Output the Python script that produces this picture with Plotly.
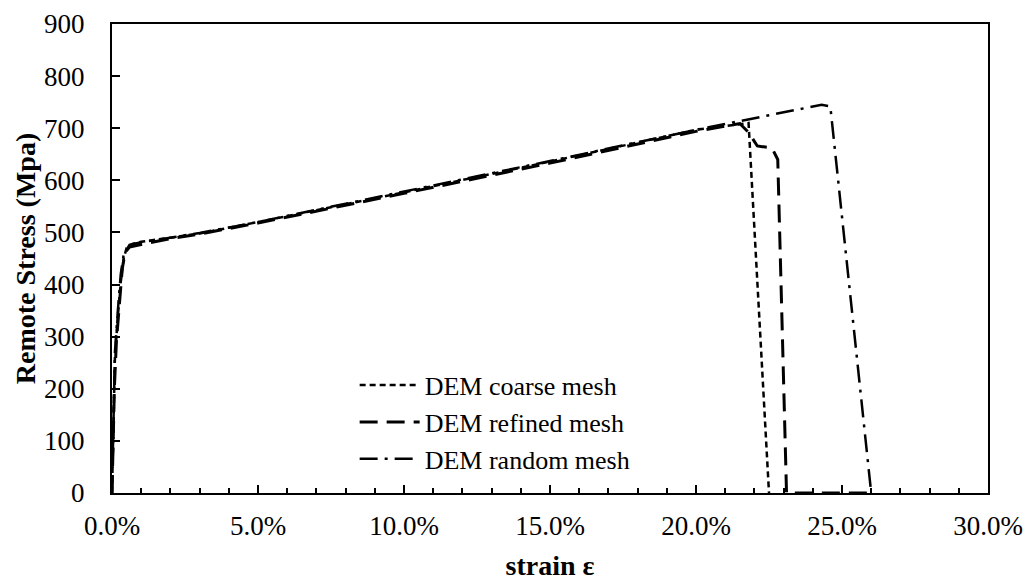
import plotly.graph_objects as go

# strain (fraction) and remote stress (MPa)
coarse_strain = [0.0, 0.0005, 0.001, 0.002, 0.003, 0.004, 0.005, 0.007, 0.01, 0.02, 0.03,
                 0.05, 0.10, 0.15, 0.20, 0.218, 0.225]
coarse_stress = [0, 170, 260, 340, 405, 450, 470, 478, 482, 490, 498,
                 520, 577, 636, 697, 710, 0]

refined_strain = [0.0, 0.0008, 0.0015, 0.0025, 0.0035, 0.0045, 0.006, 0.01, 0.02, 0.03,
                  0.05, 0.10, 0.15, 0.20, 0.215, 0.218, 0.221, 0.226, 0.228, 0.231, 0.26]
refined_stress = [0, 200, 290, 370, 430, 462, 472, 477, 488, 497,
                  518, 575, 633, 694, 709, 692, 666, 662, 640, 0, 0]

random_strain = [0.0, 0.0005, 0.001, 0.002, 0.003, 0.004, 0.006, 0.01, 0.02, 0.03,
                 0.05, 0.10, 0.15, 0.20, 0.243, 0.246, 0.260]
random_stress = [0, 150, 270, 350, 420, 458, 476, 481, 490, 499,
                 520, 578, 637, 697, 745, 742, 0]

series_names = ["DEM coarse mesh", "DEM refined mesh", "DEM random mesh"]

x_tickvals = [0.0, 0.05, 0.10, 0.15, 0.20, 0.25, 0.30]
y_tickvals = [0, 100, 200, 300, 400, 500, 600, 700, 800, 900]

FONT = "Liberation Serif"

fig = go.Figure()
fig.add_trace(go.Scatter(x=coarse_strain, y=coarse_stress, mode="lines", name=series_names[0],
                         line=dict(color="black", width=2.5, dash="6px,4px")))
fig.add_trace(go.Scatter(x=refined_strain, y=refined_stress, mode="lines", name=series_names[1],
                         line=dict(color="black", width=3, dash="18px,9px")))
fig.add_trace(go.Scatter(x=random_strain, y=random_stress, mode="lines", name=series_names[2],
                         line=dict(color="black", width=2.5, dash="18px,7px,3px,7px")))

fig.update_layout(
    width=1028, height=581,
    margin=dict(l=112, r=40, t=24, b=88, autoexpand=False),
    paper_bgcolor="white", plot_bgcolor="white",
    font=dict(family=FONT, size=27, color="black"),
    showlegend=True,
    legend=dict(x=0.277, y=0.28, xanchor="left", yanchor="top",
                bgcolor="rgba(0,0,0,0)", font=dict(size=26, family=FONT),
                itemwidth=60, tracegroupgap=0),
    xaxis=dict(range=[0, 0.30], tickvals=x_tickvals, tickformat=".1%",
               automargin=True,
               showgrid=False, zeroline=False, showline=True, linecolor="black",
               linewidth=2, mirror=True, ticks="inside", ticklen=8, tickwidth=1.5,
               tickcolor="black", ticklabelstandoff=8,
               minor=dict(dtick=0.01, ticks="inside", ticklen=5, tickwidth=1.5, tickcolor="black"),
               title=dict(text="<b>strain ε</b>", font=dict(size=28, family=FONT), standoff=18),
               tickfont=dict(size=27, family=FONT)),
    yaxis=dict(range=[0, 900], tickvals=y_tickvals,
               automargin=False,
               showgrid=False, zeroline=False, showline=True, linecolor="black",
               linewidth=2, mirror=True, ticks="inside", ticklen=8, tickwidth=1.5,
               tickcolor="black", ticklabelstandoff=20,
               title=dict(text="<b>Remote Stress (Mpa)</b>", font=dict(size=28, family=FONT), standoff=0),
               tickfont=dict(size=27, family=FONT)),
)

fig.write_html("out.html")
